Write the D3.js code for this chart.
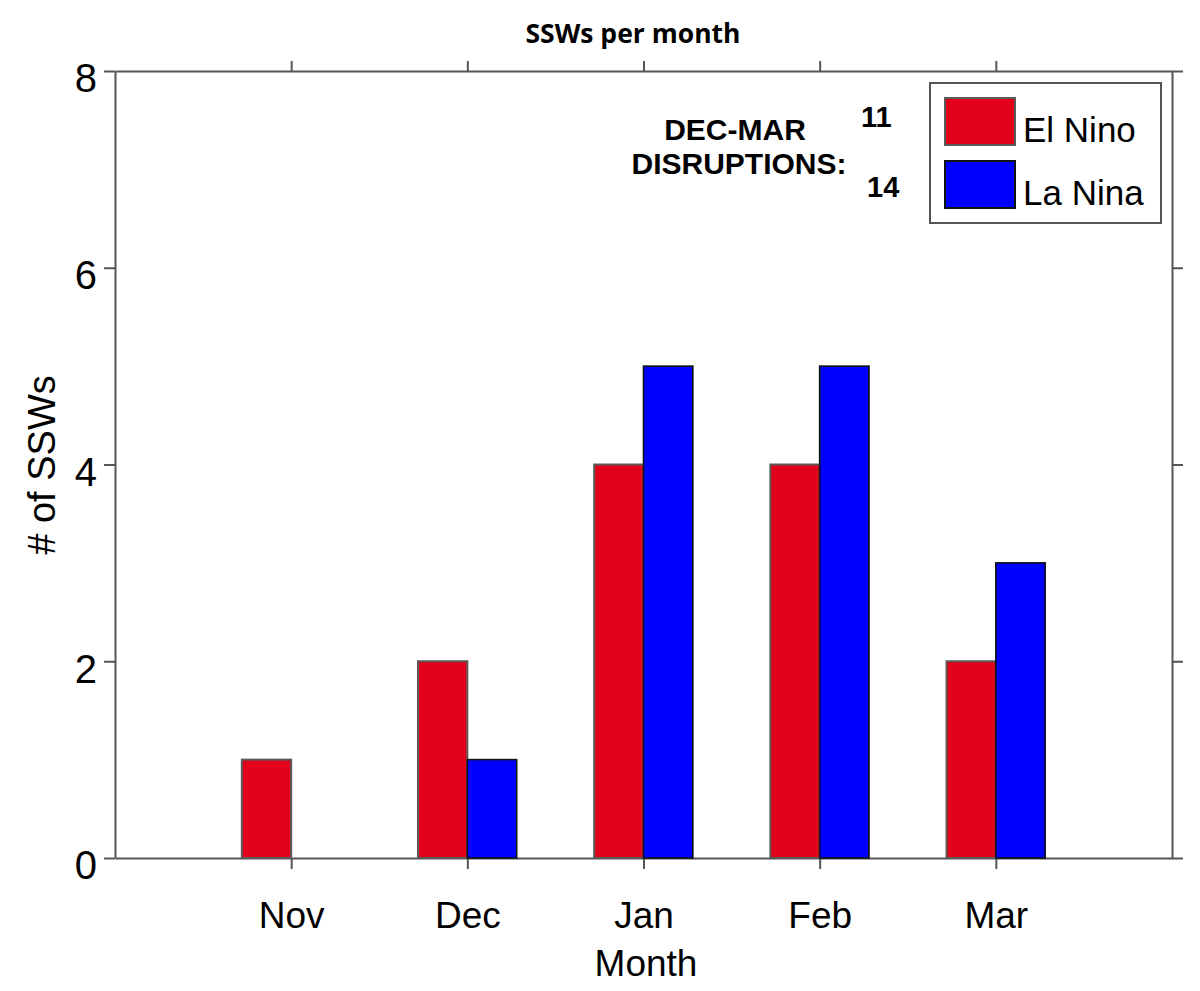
<!DOCTYPE html>
<html>
<head>
<meta charset="utf-8">
<script src="https://cdn.jsdelivr.net/npm/d3@7"></script>
<style>
  body { margin: 0; background: #fff; }
  svg { display: block; }
</style>
</head>
<body>
<svg id="chart" width="1200" height="991"></svg>
<script>
const months = ["Nov", "Dec", "Jan", "Feb", "Mar"];
const elNino = [1, 2, 4, 4, 2];
const laNina = [0, 1, 5, 5, 3];
const yTicks = [0, 2, 4, 6, 8];
const seriesNames = ["El Nino", "La Nina"];
const totals = [11, 14];

const svg = d3.select("#chart");
const axisColor = "#555";
const red = "#E3001B", blue = "#0000FF";

const x = d3.scaleLinear().domain([0, 6]).range([115, 1172]);
const y = d3.scaleLinear().domain([0, 8]).range([858, 71]);
const bw = 0.28;

function styleAxis(sel) {
  sel.selectAll("path.domain").attr("stroke", axisColor).attr("stroke-width", 2);
  sel.selectAll(".tick line").attr("stroke", axisColor).attr("stroke-width", 2);
  sel.selectAll("text").attr("fill", "#000").attr("font-family", "Liberation Sans, Arial, sans-serif");
}

const leftAx = svg.append("g").attr("transform", `translate(${x(0)},0)`)
  .call(d3.axisLeft(y).tickValues(yTicks).tickSize(11).tickSizeOuter(0).tickPadding(7));
styleAxis(leftAx);
leftAx.selectAll("text").attr("font-size", 40).attr("dy", "0.52em");

const rightAx = svg.append("g").attr("transform", `translate(${x(6)},0)`)
  .call(d3.axisRight(y).tickValues(yTicks).tickSize(11).tickSizeOuter(0).tickFormat(""));
styleAxis(rightAx);

const bottomAx = svg.append("g").attr("transform", `translate(0,${y(0)})`)
  .call(d3.axisBottom(x).tickValues([1, 2, 3, 4, 5]).tickFormat((d, i) => months[i]).tickSize(11).tickSizeOuter(0));
styleAxis(bottomAx);
bottomAx.selectAll("text").attr("font-size", 37).attr("y", 70).attr("dy", 0);

const topAx = svg.append("g").attr("transform", `translate(0,${y(8)})`)
  .call(d3.axisTop(x).tickValues([1, 2, 3, 4, 5]).tickSize(10).tickSizeOuter(0).tickFormat(""));
styleAxis(topAx);

// bars
const g = svg.append("g");
g.selectAll("rect.el").data(elNino.map((v, i) => ({v, i})).filter(d => d.v > 0)).join("rect")
  .attr("class", "el")
  .attr("x", d => x(d.i + 1 - bw)).attr("width", d => x(bw) - x(0))
  .attr("y", d => y(d.v)).attr("height", d => y(0) - y(d.v))
  .attr("fill", red).attr("stroke", "#5a5a5a").attr("stroke-width", 2);
g.selectAll("rect.la").data(laNina.map((v, i) => ({v, i})).filter(d => d.v > 0)).join("rect")
  .attr("class", "la")
  .attr("x", d => x(d.i + 1)).attr("width", d => x(bw) - x(0))
  .attr("y", d => y(d.v)).attr("height", d => y(0) - y(d.v))
  .attr("fill", blue).attr("stroke", "#111").attr("stroke-width", 1.6);

// titles
svg.append("text").attr("x", 633).attr("y", 43).attr("text-anchor", "middle")
  .attr("font-family", "Open Sans, sans-serif").attr("font-weight", "bold").attr("font-size", 26.5)
  .text("SSWs per month");
svg.append("text").attr("x", 646).attr("y", 976).attr("text-anchor", "middle")
  .attr("font-family", "Liberation Sans, Arial, sans-serif").attr("font-size", 37)
  .text("Month");
svg.append("text").attr("transform", "translate(55,465) rotate(-90)").attr("text-anchor", "middle")
  .attr("font-family", "Liberation Sans, Arial, sans-serif").attr("font-size", 38)
  .text("# of SSWs");

// annotation
const ann = svg.append("g").attr("font-family", "Liberation Sans, Arial, sans-serif").attr("font-weight", "bold");
ann.append("text").attr("x", 735).attr("y", 140).attr("text-anchor", "middle").attr("font-size", 30).text("DEC-MAR");
ann.append("text").attr("x", 739).attr("y", 174).attr("text-anchor", "middle").attr("font-size", 30).text("DISRUPTIONS:");
ann.append("text").attr("x", 861).attr("y", 127).attr("font-size", 29).text(totals[0]);
ann.append("text").attr("x", 867).attr("y", 197).attr("font-size", 29).text(totals[1]);

// legend
const leg = svg.append("g");
leg.append("rect").attr("x", 930).attr("y", 83).attr("width", 231).attr("height", 140)
  .attr("fill", "#fff").attr("stroke", "#555").attr("stroke-width", 2);
const legItems = [{name: seriesNames[0], c: red, s: "#5a5a5a", y: 98}, {name: seriesNames[1], c: blue, s: "#111", y: 161}];
leg.selectAll("rect.sw").data(legItems).join("rect")
  .attr("class", "sw")
  .attr("x", 945).attr("y", d => d.y).attr("width", 70).attr("height", 47)
  .attr("fill", d => d.c).attr("stroke", d => d.s).attr("stroke-width", 2);
leg.selectAll("text").data(legItems).join("text")
  .attr("x", 1023).attr("y", d => d.y + 44)
  .attr("font-family", "Liberation Sans, Arial, sans-serif").attr("font-size", 35)
  .text(d => d.name);
</script>
</body>
</html>
